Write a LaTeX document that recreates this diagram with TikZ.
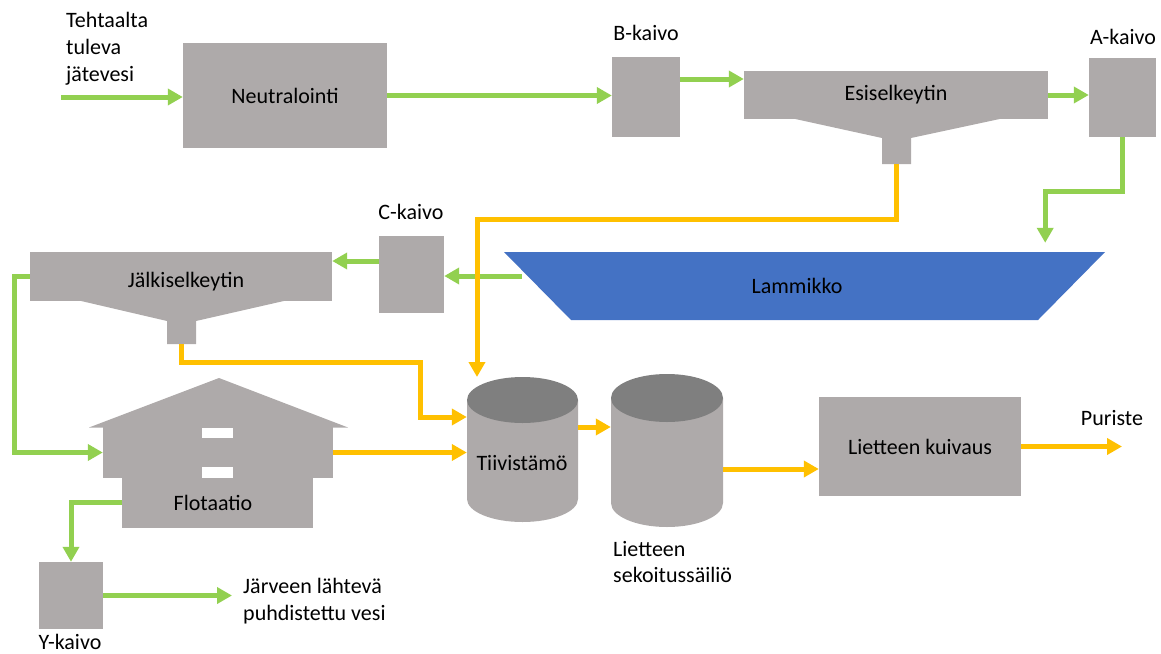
\documentclass[tikz,border=0pt]{standalone}
\usepackage{fontspec}
\setmainfont{Carlito}
\usepackage{tikz}
\usetikzlibrary{arrows.meta,calc}
\definecolor{PlantGrey}{RGB}{174,170,170}
\definecolor{TankTop}{RGB}{127,127,127}
\definecolor{WaterGreen}{RGB}{146,208,80}
\definecolor{SludgeOrange}{RGB}{255,192,0}
\definecolor{PondBlue}{RGB}{68,114,196}

\begin{document}
\begin{tikzpicture}[x=1pt, y=-1pt, >={Triangle[length=15pt,width=16pt]},
    every node/.style={font=\fontsize{22}{26.8}\selectfont, inner sep=0pt},
    unit/.style={fill=PlantGrey},
    hold/.style={draw=none},
    water/.style={->, draw=WaterGreen, line width=5pt},
    sludge/.style={->, draw=SludgeOrange, line width=5pt}]
\useasboundingbox (0,0) rectangle (1161,653);

% top row
\node[unit, minimum width=204pt, minimum height=105pt] (neut) at (285,95.5) {Neutralointi};
\node[anchor=west, align=left] at (66,48.5) {Tehtaalta\\tuleva\\jätevesi};
\coordinate (inflow) at (61,97);
\node[unit, minimum width=68pt, minimum height=80pt] (bwell) at (646,97) {};
\node at (646,33) {B-kaivo};
\node[unit, minimum width=304pt, minimum height=48pt] (esi) at (896,95) {Esiselkeytin};
\fill[PlantGrey] (793,118.5) -- (882,138) -- (882,164) -- (911,164) -- (911,138) -- (1002,118.5) -- cycle;
\coordinate (esi-out) at (896.5,164);
\node[unit, minimum width=67pt, minimum height=79pt] (awell) at (1122.5,97.5) {};
\node at (1123,37) {A-kaivo};

% middle row
\fill[PondBlue] (504,252) -- (1105,252) -- (1038,320) -- (571,320) -- cycle;
\node[hold, minimum width=601pt, minimum height=68pt] (lam) at (804.5,286) {};
\node at (797,286) {Lammikko};
\node[unit, minimum width=65pt, minimum height=77pt] (cwell) at (411.5,274.5) {};
\node at (411,212) {C-kaivo};
\node[unit, minimum width=302pt, minimum height=49pt] (jalki) at (181,276.5) {};
\fill[PlantGrey] (79,300.5) -- (167,321) -- (167,344) -- (196,344) -- (196,321) -- (286,300.5) -- cycle;
\node at (186,282) {Jälkiselkeytin};
\coordinate (jalki-out) at (181.5,344);

% flotation house
\node[unit, minimum width=230pt, minimum height=51pt] (flot) at (218,452.5) {};
\fill[PlantGrey] (89,427.5) -- (219,378) -- (348,427.5) -- cycle;
\fill[PlantGrey] (122,477) rectangle (313,528);
\fill[white] (202,428) rectangle (233,438);
\fill[white] (202,467) rectangle (233,477.5);
\node at (213,503) {Flotaatio};
\coordinate (flot-out) at (122,502);
\node[unit, minimum width=64pt, minimum height=67pt] (ywell) at (71,595.5) {};
\node at (70,642) {Y-kaivo};
\coordinate (lake) at (232,595.5);
\node[anchor=west, align=left] at (243,601.5) {Järveen lähtevä\\puhdistettu vesi};

% sludge tanks
\fill[PlantGrey] (467,400) -- (467,499) arc[start angle=180, end angle=360, x radius=55.5pt, y radius=23pt] -- (578,400) -- cycle;
\fill[TankTop] (522.5,400) ellipse[x radius=55.5pt, y radius=23pt];
\node[hold, minimum width=111pt, minimum height=99pt] (tiiv) at (522.5,449.5) {};
\node at (522,463) {Tiivistämö};
\fill[PlantGrey] (611,398) -- (611,503) arc[start angle=180, end angle=360, x radius=56pt, y radius=24pt] -- (723,398) -- cycle;
\fill[TankTop] (667,398) ellipse[x radius=56pt, y radius=24pt];
\node[hold, minimum width=112pt, minimum height=105pt] (seko) at (667,450.5) {};
\node[anchor=west, align=left] at (613,562) {Lietteen\\sekoitussäiliö};
\node[unit, minimum width=202pt, minimum height=99pt] (kuiv) at (920,446.5) {Lietteen kuivaus};
\node at (1112,418) {Puriste};
\coordinate (press) at (1122,446.5);

% water line
\coordinate (b-out) at ([yshift=18pt]bwell.east);
\coordinate (lam-in) at ($(lam.north east)+(-60,-9)$);
\coordinate (lam-out) at (522,276);
\coordinate (c-out) at ([yshift=13.5pt]cwell.west);
\draw[water] (inflow) -- (inflow -| neut.west);
\draw[water] (neut.east) -- (bwell.west |- neut.east);
\draw[water] (b-out) -- (b-out -| esi.west);
\draw[water] (esi.east) -- (awell.west |- esi.east);
\draw[water] (awell.south) -- ++(0,54) -| (lam-in);
\draw[water] (lam-out) -- (lam-out -| cwell.east);
\draw[water] (c-out) -- (c-out -| jalki.east);
\draw[water] (jalki.west) -- ++(-15,0) |- (flot.west);
\draw[water] (flot-out) -| (ywell.north);
\draw[water] (ywell.east) -- (lake);

% sludge line
\coordinate (tiiv-in) at (477,377);
\coordinate (tiiv-w1) at ([yshift=32.5pt]tiiv.west);
\coordinate (t-out) at ([yshift=22.5pt]tiiv.east);
\coordinate (s-out) at ([yshift=-18.5pt]seko.east);
\draw[sludge] (esi-out) -- ++(0,55) -| (tiiv-in);
\draw[sludge] (jalki-out) |- ++(238.5,18) |- (tiiv-w1);
\draw[sludge] (flot.east) -- (flot.east -| tiiv.west);
\draw[sludge] (t-out) -- (t-out -| seko.west);
\draw[sludge] (s-out) -- (s-out -| kuiv.west);
\draw[sludge] (kuiv.east) -- (press);
\end{tikzpicture}
\end{document}
